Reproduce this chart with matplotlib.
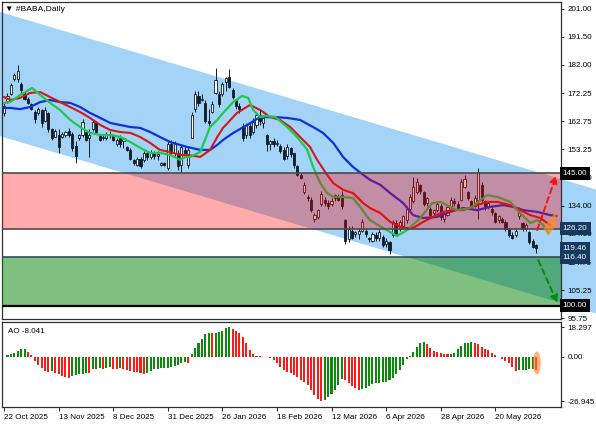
import numpy as np
import matplotlib.pyplot as plt
from matplotlib import font_manager
from matplotlib.patches import Polygon, Ellipse
from matplotlib.transforms import blended_transform_factory

# MT4 uses a narrow UI font; take the narrow Liberation face if it is there
installed = {f.name for f in font_manager.fontManager.ttflist}
if 'Liberation Sans Narrow' in installed:
    plt.rcParams['font.family'] = ['Liberation Sans Narrow', 'DejaVu Sans']
    fs = 6.5
else:
    plt.rcParams['font.family'] = ['Liberation Sans', 'DejaVu Sans']
    fs = 5.8

# Daily candles, first bar = 22 Oct 2025
opens = [165.5, 169.5, 172, 177, 177, 175.5, 172, 170.5, 168.5, 166,
         165.5, 166.5, 163, 165.5, 160, 157.5, 158, 157.5, 158, 159.5,
         158.5, 154.5, 157, 158, 159, 157, 160, 162, 158, 157,
         157, 158.5, 158, 155, 157, 156, 154, 153, 149.5, 148,
         150, 149.5, 152, 150.5, 152, 151, 148, 148.5, 147, 155,
         152, 152, 148, 153, 148, 157, 167, 171.5, 170, 169,
         163, 166, 172.5, 172, 172, 176, 178, 173.5, 170, 168,
         161, 158, 161, 159, 161.5, 165, 162, 158, 155, 156,
         155, 154.5, 153, 151, 153.5, 152, 147.5, 144.5, 138.5, 137,
         136, 129.5, 130, 134.5, 136, 135, 134.5, 136.5, 137, 137.5,
         129, 122.5, 125.5, 124.5, 124.5, 125.5, 125.5, 123, 122, 124,
         123, 123.5, 121, 121.5, 124, 128, 126, 127, 129, 133,
         135.5, 138.5, 141, 138.5, 135, 133, 131.5, 132.5, 134, 129.5,
         131, 133.5, 135.5, 134.5, 136, 140.5, 138.5, 135.5, 134, 136,
         141, 135.5, 133.5, 133, 131.5, 129, 129.5, 128.5, 126, 124,
         124, 130.5, 128, 126, 125, 122, 120.5]
highs = [169, 172.5, 175.8, 179.2, 182, 176, 173, 171, 169, 166.6,
         167.5, 167, 167.5, 166, 160.5, 160, 160, 159, 159.5, 160.5,
         159, 156, 158.5, 163.5, 159.5, 160, 163.3, 163, 158.5, 158,
         159, 159.5, 158.5, 157, 158, 157.5, 154.5, 153.5, 150, 150.5,
         150.5, 152.5, 152.5, 153, 152.5, 152.5, 149, 149, 156, 156.5,
         156, 153, 155, 154, 154, 166, 173, 173, 172, 170,
         167, 169.5, 181, 173, 176, 178, 180.5, 174, 170.5, 169,
         162, 162, 162, 164, 165.5, 167, 165, 158.5, 156.5, 157,
         156.5, 155, 154, 155, 154, 152, 148, 145, 142, 137.5,
         137, 131.5, 133, 139, 137, 136, 136.5, 138, 138, 139,
         129.5, 127, 127, 125.5, 126.5, 129.5, 126, 123.5, 125, 125,
         126, 124, 123, 122, 129, 129, 129, 131, 134, 138,
         143.8, 143.5, 141.5, 139, 137, 133.5, 133, 135.5, 134.5, 132,
         134, 137, 136.5, 135.5, 143, 144.5, 139, 136, 137.5, 146.8,
         142, 136, 135.5, 134, 132, 131, 130, 129, 126.5, 125,
         126, 133.5, 128.5, 128, 125.5, 122.5, 121]
lows = [164.5, 169, 171.7, 176.5, 176, 172.5, 170, 168.5, 166.5, 162,
        165, 160.8, 162.5, 159, 156.4, 157.5, 152, 157, 157.3, 157.5,
        152.5, 148.5, 156.5, 157.5, 156, 150.5, 159.5, 158.5, 156, 156.5,
        156.5, 157, 156, 154.5, 154, 153.5, 152.5, 149.6, 148, 147.5,
        146.8, 149, 149.5, 150, 150, 149.5, 147.5, 147.5, 146, 151.5,
        151, 146, 145.5, 150.5, 147, 157, 166, 168, 169.5, 162,
        161, 165.5, 172, 167.5, 171.5, 173, 174, 170.5, 167, 165.5,
        156, 157, 157, 158.5, 160.5, 161.5, 160.5, 152.5, 153, 154,
        154.5, 152, 149.5, 150, 150.5, 147, 144, 143, 138, 135.5,
        132, 128.5, 129.5, 134, 134, 133, 134, 135.5, 135.5, 133,
        121, 121.5, 122.5, 123.5, 122.5, 125, 123.5, 121.5, 121.5, 122,
        122, 120, 120, 117.5, 123.5, 124, 125.5, 126.5, 128, 132.5,
        135, 138, 138, 134, 134, 130.5, 130.5, 132, 129, 128.5,
        130.5, 133, 134, 132.5, 135.5, 140, 136, 133, 133.5, 129.5,
        135, 132.5, 133, 131, 128, 128, 128, 125.5, 123.5, 122.5,
        123.5, 129.5, 125.5, 125.5, 121, 119.5, 118]
closes = [168, 171.5, 175, 178.5, 180, 173.5, 170.5, 169, 167, 163.5,
          167, 162, 166.5, 160, 157, 159.5, 154, 158.5, 159, 158,
          153.5, 151, 158, 162.5, 156.5, 158, 162.5, 159, 156.5, 157.5,
          158.5, 158, 156.5, 156.5, 155, 157, 153, 150, 148.5, 150,
          147.5, 152, 150.5, 152, 151, 151.5, 148.5, 148, 155, 152,
          155, 147.5, 154, 152, 153, 165, 172, 169, 170.5, 163,
          162, 168.5, 176.8, 168.5, 175.5, 177.5, 174.5, 171, 168, 167,
          157, 161.5, 158, 162.5, 165, 163, 164, 155, 156, 155,
          155.5, 152.5, 150, 154, 151.5, 148, 144.5, 143.5, 141, 136.5,
          132.5, 131, 132.5, 138, 135, 134, 135.5, 137.5, 136, 134,
          122, 126, 123, 125, 125.5, 128.5, 124.5, 122.5, 124.5, 123,
          125, 120.5, 122, 119, 128.5, 124.5, 128.5, 130.5, 133, 137,
          140.5, 142, 139, 134.5, 136.5, 131, 132.5, 134.5, 130, 131.5,
          133.5, 136, 135, 133, 142, 143, 136.5, 133.5, 136.5, 145.5,
          136, 133.5, 135, 132, 128.5, 130.5, 128.5, 126, 124, 123,
          125.5, 132, 126, 127.5, 121.5, 120, 119.46]

# Alligator lines (bar position, price), shifted past the last bar
lips_x = [0, 1.8, 4.7, 8.2, 10.6, 13.5, 16.4, 19.4, 22.3, 25.2, 28.2, 31.1, 34.0,
          37.0, 39.9, 42.8, 45.7, 48.7, 51.6, 53.1, 54.5, 57.5, 58.9, 60.4, 62.5,
          64.2, 67.2, 69.8, 71.6, 73.0, 75.1, 77.1, 79.5, 83.0, 85.9, 88.9, 90.6,
          92.7, 94.7, 96.5, 99.4, 102.3, 104.4, 106.5, 107.3, 111.1, 115.2, 118.2,
          122.0, 125.5, 127.9, 130.8, 132.8, 136.7, 141.6, 144.6, 148.4, 151.3,
          154.3, 156.3, 158.1, 159.5]
lips = [169.0, 169.3, 171.7, 174.1, 171.7, 169.0, 166.6, 163.2, 160.8, 158.8,
        158.1, 158.1, 157.4, 155.7, 153.7, 152.0, 152.0, 151.3, 149.6, 150.6,
        150.6, 152.3, 156.4, 160.8, 163.2, 165.6, 169.3, 171.4, 170.7, 166.6,
        164.2, 164.6, 164.2, 160.8, 157.4, 153.0, 147.2, 141.7, 138.3, 137.0,
        137.0, 136.6, 133.6, 130.2, 129.1, 126.4, 123.7, 125.7, 129.8, 134.9,
        135.3, 133.6, 132.5, 133.2, 137.6, 137.0, 135.3, 131.5, 128.1, 129.1,
        127.4, 124.7]
teeth_x = [0, 1.8, 4.7, 7.6, 10.6, 13.5, 16.4, 19.4, 22.3, 25.2, 28.2, 31.1, 34.0,
           37.0, 39.9, 42.8, 45.7, 48.7, 51.6, 53.7, 57.5, 60.4, 62.5, 64.2, 68.3,
           72.1, 75.1, 78.0, 80.9, 83.9, 86.8, 89.7, 91.8, 94.7, 96.5, 99.4, 102.3,
           105.3, 107.3, 110.3, 113.2, 117.0, 119.9, 122.9, 125.8, 128.7, 131.7,
           134.6, 138.7, 141.6, 144.6, 148.4, 151.3, 154.3, 157.2, 160.1]
teeth = [171.0, 170.0, 170.7, 172.4, 172.7, 171.0, 169.3, 167.6, 165.9, 163.9,
         161.5, 159.8, 159.1, 158.8, 157.4, 155.4, 153.0, 152.3, 151.3, 151.3,
         150.6, 153.0, 157.4, 160.5, 165.6, 168.3, 166.6, 164.2, 163.2, 160.8,
         157.4, 154.0, 149.6, 144.5, 141.7, 139.4, 138.3, 134.9, 133.2, 131.5,
         128.5, 126.4, 126.4, 128.5, 130.2, 131.9, 132.5, 132.5, 134.2, 135.3,
         135.3, 134.2, 132.5, 130.8, 129.8, 127.4]
jaw_x = [0, 1.8, 4.7, 7.6, 10.6, 13.5, 16.4, 19.4, 22.3, 25.2, 28.2, 31.1, 34.0,
         37.0, 39.9, 42.8, 45.7, 48.7, 51.6, 53.7, 57.5, 60.4, 62.5, 64.2, 67.2,
         71.3, 75.1, 78.9, 83.0, 86.8, 90.6, 93.5, 96.5, 99.4, 102.3, 105.3, 107.3,
         110.3, 113.2, 117.0, 119.9, 122.9, 127.0, 130.8, 134.6, 138.7, 142.5,
         146.3, 149.3, 152.2, 156.3, 160.1, 161.9]
jaw = [167.3, 167.3, 166.9, 167.6, 169.3, 170.0, 169.3, 169.0, 167.6, 165.6,
       163.9, 162.2, 161.5, 160.8, 160.5, 159.1, 157.4, 155.7, 154.7, 154.0,
       153.0, 153.0, 154.7, 156.4, 158.8, 161.5, 164.2, 164.2, 163.9, 163.2,
       160.8, 158.8, 155.4, 150.6, 147.2, 144.5, 142.8, 141.1, 138.3, 134.9,
       130.8, 129.8, 130.2, 131.9, 133.2, 132.5, 133.6, 134.2, 133.6, 132.5,
       131.9, 130.8, 130.5]

# Awesome Oscillator, one value per bar
ao = [-0.3, 1.0, 1.8, 2.4, 3.5, 4.7, 5.1, 3.3, 1.0, -2.2,
      -4.9, -6.9, -8.4, -9.0, -8.6, -9.6, -10.6, -11.4, -12.4, -12.8,
      -11.6, -11.0, -10.6, -10.4, -10.0, -10.0, -7.3, -7.2, -6.9, -7.1,
      -6.5, -6.4, -7.1, -7.2, -6.9, -7.3, -7.9, -8.4, -9.0, -9.4,
      -9.8, -10.2, -9.6, -8.6, -7.5, -7.1, -7.0, -6.9, -6.5, -5.9,
      -5.3, -4.7, -3.9, -3.3, -3.5, 1.8, 5.3, 8.4, 11.0, 14.1,
      14.5, 14.4, 14.9, 15.0, 15.9, 17.5, 18.297, 16.9, 16.1, 14.5,
      12.4, 8.8, 4.3, 1.6, 0.6, 0.4, 0.2, 0.1, -0.6, -1.8,
      -3.5, -6.3, -7.9, -9.0, -10.0, -11.0, -12.4, -14.0, -15.1, -17.1,
      -20.2, -23.2, -25.5, -26.945, -26.0, -24.7, -22.6, -20.2, -17.1, -13.7,
      -14.1, -15.7, -17.5, -19.2, -20.2, -19.8, -18.7, -17.7, -16.5, -16.1,
      -15.7, -15.5, -15.1, -14.1, -12.6, -10.6, -7.9, -4.9, -1.4, 0.6,
      3.3, 5.9, 8.4, 9.4, 7.7, 5.3, 3.9, 2.9, 2.2, 2.1,
      1.6, 1.8, 2.6, 4.7, 6.7, 8.4, 8.8, 9.0, 8.8, 7.7,
      5.9, 4.7, 4.3, 2.6, 1.0, -0.2, -1.4, -2.6, -3.9, -5.9,
      -8.4, -8.2, -7.9, -7.8, -7.5, -7.3, -8.041]

date_labels = ['22 Oct 2025', '13 Nov 2025', '8 Dec 2025', '31 Dec 2025', '26 Jan 2026',
               '18 Feb 2026', '12 Mar 2026', '6 Apr 2026', '28 Apr 2026', '20 May 2026']
price_ticks = [201.00, 191.50, 182.00, 172.25, 162.75, 153.25, 143.50, 134.00,
               124.50, 114.75, 105.25, 95.75]
ao_ticks = [18.297, 0.0, -26.945]
ao_tick_labels = ['18.297', '0.00', '-26.945']

# price levels / zones
resistance = 145.00
zone_low = 126.20
support = 116.40
target = 100.00
last_price = 119.46

# descending channel (bar, price) at its two ends
chan_x = [-1.2, 173.6]
chan_upper = [200.0, 139.5]
chan_lower = [157.7, 97.3]

dark = '#0d1b2a'

fig = plt.figure(figsize=(5.96, 4.25), dpi=100)
ax = fig.add_axes([0.0034, 0.2494, 0.938, 0.7459])
ax2 = fig.add_axes([0.0034, 0.0424, 0.938, 0.2])

x = np.arange(len(closes))
o = np.array(opens); c = np.array(closes)
h = np.array(highs); l = np.array(lows)

# channel (runs under the price scale too)
chan = Polygon([(chan_x[0], chan_upper[0]), (chan_x[1], chan_upper[1]),
                (chan_x[1], chan_lower[1]), (chan_x[0], chan_lower[0])],
               closed=True, fc='#a3d4f7', ec='none', zorder=0, clip_on=False)
ax.add_patch(chan)

# candles
up = c >= o
ax.vlines(x, l, h, color=dark, lw=0.7, zorder=2)
ax.bar(x, np.maximum(np.abs(c - o), 0.25), bottom=np.minimum(o, c), width=0.62,
       color=np.where(up, 'white', dark), edgecolor=dark, linewidth=0.6, zorder=2.5)

# alligator
ax.plot(jaw_x, jaw, color='#1030e0', lw=1.6, zorder=3)
ax.plot(teeth_x, teeth, color='#d41818', lw=1.5, zorder=3)
ax.plot(lips_x, lips, color='#1ec850', lw=1.6, zorder=3)

# zones on top (tint everything underneath)
ax.axhspan(zone_low, resistance, color='red', alpha=0.33, lw=0, zorder=4)
ax.axhspan(target, support, color='#008000', alpha=0.5, lw=0, zorder=4)
ax.axhline(resistance, color='#4a4a4a', lw=1.2, zorder=5)
ax.axhline(zone_low, color='#4a4a4a', lw=1.2, zorder=5)
ax.axhline(support, color='#3a4a5a', lw=1.2, zorder=5)
ax.axhline(target, color='black', lw=1.6, zorder=5)

# orange wedge where the lines converge
ax.add_patch(Polygon([(158.1, 126.4), (161.9, 132.2), (161.9, 127.4), (159.5, 123.7)],
                     closed=True, fc='#ff8c20', ec='none', alpha=0.7, zorder=5))

# scenario arrows
ax.annotate('', xy=(161.9, 144.3), xytext=(156.3, 125.7), annotation_clip=False,
            arrowprops=dict(arrowstyle='-|>', color='#ff1010', lw=1.4, ls=(0, (3, 2)),
                            mutation_scale=11, shrinkA=0, shrinkB=0), zorder=6)
ax.annotate('', xy=(162.2, 100.9), xytext=(156.6, 115.5), annotation_clip=False,
            arrowprops=dict(arrowstyle='-|>', color='#0a8a0a', lw=1.4, ls=(0, (3, 2)),
                            mutation_scale=11, shrinkA=0, shrinkB=0), zorder=6)

ax.set_xlim(-0.6, 163.3)
ax.set_ylim(95.41, 203.38)
ax.text(0.006, 0.988, '\u25BC #BABA,Daily', transform=ax.transAxes, va='top',
        ha='left', fontsize=fs + 0.3, zorder=10)

# price labels on the scale
tr = blended_transform_factory(ax.transAxes, ax.transData)
for val, bg in [(resistance, 'black'), (zone_low, '#163a5f'), (last_price, '#163a5f'),
                (support, '#163a5f'), (target, 'black')]:
    ax.text(1.003, val, f'{val:.2f}', transform=tr, color='white', fontsize=fs,
            va='center', ha='left', zorder=10, clip_on=False,
            bbox=dict(boxstyle='square,pad=0.4', fc=bg, ec='none'))

# AO histogram
ao_arr = np.array(ao)
ao_col = ['#ff1a1a'] + ['#0b8a0b' if ao_arr[i] > ao_arr[i - 1] else '#ff1a1a'
                        for i in range(1, len(ao_arr))]
ax2.bar(x, ao_arr, width=0.6, color=ao_col, lw=0, zorder=2)
ax2.add_patch(Ellipse((156.2, -3.7), width=2.3, height=14, fc='#ff7f27', ec='none',
                      alpha=0.6, zorder=3, clip_on=False))
ax2.set_xlim(-0.6, 163.3)
ax2.set_ylim(-30.56, 21.39)
ax2.text(0.01, 0.93, f'AO {ao[-1]:.3f}', transform=ax2.transAxes, va='top',
         ha='left', fontsize=fs)

# axes styling
for a in (ax, ax2):
    a.yaxis.tick_right()
    a.tick_params(axis='y', length=2.5, width=0.6, pad=2, labelsize=fs)
    for s in a.spines.values():
        s.set_color('#303030')
        s.set_linewidth(0.9)

ax.set_yticks(price_ticks)
ax.set_yticklabels([f'{t:.2f}' for t in price_ticks])
ax.tick_params(axis='x', bottom=False, labelbottom=False)

ax2.set_yticks(ao_ticks)
ax2.set_yticklabels(ao_tick_labels)
ax2.set_xticks(np.arange(len(date_labels)) * 16)
ax2.set_xticklabels(date_labels, ha='left', fontsize=fs)
ax2.tick_params(axis='x', length=3, width=0.6, pad=2)

fig.savefig('out.png', dpi=100)
